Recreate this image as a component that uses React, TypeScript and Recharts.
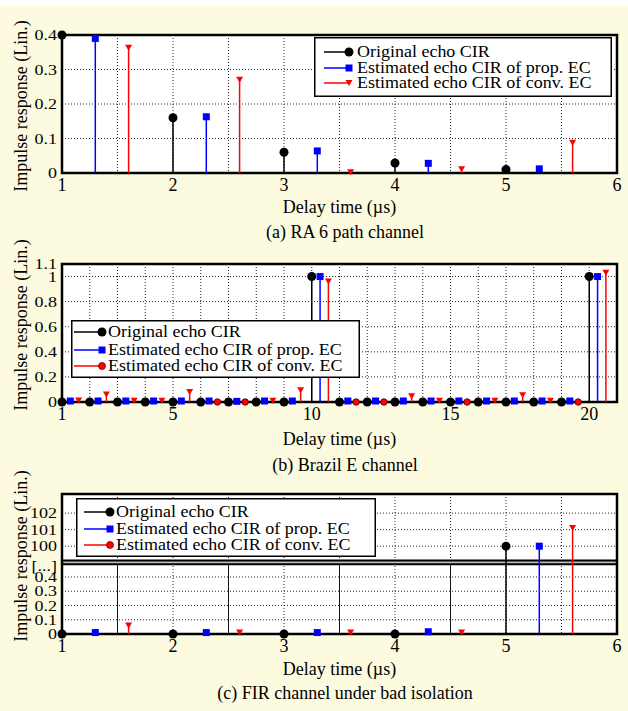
import React from 'react';
import { ComposedChart, Scatter, XAxis, YAxis, CartesianGrid, ReferenceLine, ReferenceArea } from 'recharts';

const FONT = '"Liberation Serif", "Times New Roman", serif';
const BG = '#fcfbe0';
const ORIG_COLOR = '#000000';
const PROP_COLOR = '#0000ff';
const CONV_COLOR = '#ff0000';

const SERIES_NAMES = ['Original echo CIR', 'Estimated echo CIR of prop. EC', 'Estimated echo CIR of conv. EC'];

// (a) RA 6 path channel
const aOrigX = [1, 2, 3, 4, 5];
const aOrigY = [0.4, 0.16, 0.06, 0.029, 0.01];
const aPropX = [1.3, 2.3, 3.3, 4.3, 5.3];
const aPropY = [0.39, 0.163, 0.064, 0.028, 0.012];
const aConvX = [1.6, 2.6, 3.6, 4.6, 5.6];
const aConvY = [0.363, 0.27, 0.002, 0.011, 0.088];
const aXTicks = [1, 2, 3, 4, 5, 6];
const aXGrid = [1.5, 2, 2.5, 3, 3.5, 4, 4.5, 5, 5.5];
const aYTicks = [0, 0.1, 0.2, 0.3, 0.4];
const aYGrid = [0.1, 0.2, 0.3];

// (b) Brazil E channel
const bOrigX = [1, 2, 3, 4, 5, 6, 7, 8, 9, 10, 11, 12, 13, 14, 15, 16, 17, 18, 19, 20];
const bOrigY = [0, 0, 0, 0, 0, 0, 0, 0, 0, 1, 0, 0, 0, 0, 0, 0, 0, 0, 0, 1];
const bPropX = [1.3, 2.3, 3.3, 4.3, 5.3, 6.3, 7.3, 8.3, 9.3, 10.3, 11.3, 12.3, 13.3, 14.3, 15.3, 16.3, 17.3, 18.3, 19.3, 20.3];
const bPropY = [0.008, 0.008, 0.008, 0.008, 0.008, 0.008, 0.005, 0.008, 0.008, 1.0, 0.008, 0.008, 0.008, 0.008, 0.008, 0.008, 0.008, 0.008, 0.008, 1.0];
const bConvX = [1.6, 2.6, 3.6, 4.6, 5.6, 6.6, 7.6, 8.6, 9.6, 10.6, 11.6, 12.6, 13.6, 14.6, 15.6, 16.6, 17.6, 18.6, 19.6, 20.6];
const bConvY = [0.012, 0.06, 0.01, 0.01, 0.08, 0, 0, 0.01, 0.093, 0.96, 0, 0, 0.045, 0.01, 0, 0.01, 0.053, 0.01, 0, 1.03];
const bXTicks = [1, 5, 10, 15, 20];
const bXGrid = [2, 3, 4, 5, 6, 7, 8, 9, 10, 11, 12, 13, 14, 15, 16, 17, 18, 19, 20];
const bYTicks = [0, 0.2, 0.4, 0.6, 0.8, 1, 1.1];
const bYGrid = [0.2, 0.4, 0.6, 0.8, 1];

// (c) FIR channel under bad isolation (broken y axis)
const cOrigX = [1, 2, 3, 4, 5];
const cOrigY = [0, 0, 0, 0, 100];
const cPropX = [1.3, 2.3, 3.3, 4.3, 5.3];
const cPropY = [0.01, 0.01, 0.01, 0.016, 100];
const cConvX = [1.6, 2.6, 3.6, 4.6, 5.6];
const cConvY = [0.06, 0.01, 0.01, 0.01, 101.1];
const cXTicks = [1, 2, 3, 4, 5, 6];
const cXGrid = [1.5, 2, 2.5, 3, 3.5, 4, 4.5, 5, 5.5];
const cLowTicks = [0, 0.1, 0.2, 0.3, 0.4];
const cHighTicks = [100, 101, 102];
const cSolidX = [1.5, 2.5, 3.5, 4.5];

// broken axis: 0..0.5 kept, 99..103 squeezed above it
const BREAK = 0.5;
const HIGH_SCALE = 0.116;
const toBroken = (v: number) => (v <= BREAK ? v : BREAK + (v - 99) * HIGH_SCALE);
const fromBroken = (v: number) => (v - BREAK) / HIGH_SCALE + 99;
const cBreakTick = 0.475;
const cYTicks = [...cLowTicks, cBreakTick, ...cHighTicks.map(toBroken)];
const cYGrid = [0.1, 0.2, 0.3, 0.4, ...cHighTicks.map(toBroken)];

const pts = (xs: number[], ys: number[], map = (v: number) => v) =>
  xs.map((x, i) => ({ x, y: map(ys[i]), raw: ys[i] }));

function Marker(props: any) {
  const { cx, cy, kind, payload } = props;
  if (cx == null || cy == null) return null;
  if (kind === 'orig') return <circle cx={cx} cy={cy} r={4.5} fill={ORIG_COLOR} />;
  if (kind === 'prop') return <rect x={cx - 3.5} y={cy - 3.5} width={7} height={7} fill={PROP_COLOR} />;
  if (payload && payload.raw === 0) {
    return <circle cx={cx} cy={cy} r={3.2} fill={CONV_COLOR} stroke="#700" strokeWidth={1} />;
  }
  return <path d={`M${cx - 3.5},${cy - 3} L${cx + 3.5},${cy - 3} L${cx},${cy + 3} Z`} fill={CONV_COLOR} />;
}

function YTick(props: any) {
  const { x, y, payload, fmt } = props;
  const label = fmt ? fmt(payload.value) : String(payload.value);
  return (
    <g transform={`translate(${x},${y}) scale(1,0.8)`}>
      <text x={0} y={0} dy="0.35em" textAnchor="end" fontFamily={FONT} fontSize={18} fill="#000">
        {label}
      </text>
    </g>
  );
}

function LegendBox({ left, top, width, height, rows, lineX1, lineX2, textX, convRound }: any) {
  const colors = [ORIG_COLOR, PROP_COLOR, CONV_COLOR];
  return (
    <svg style={{ position: 'absolute', left, top }} width={width} height={height}>
      <rect x={0.75} y={0.75} width={width - 1.5} height={height - 1.5} fill="#fff" stroke="#000" strokeWidth={1.5} />
      {SERIES_NAMES.map((name, i) => {
        const y = rows[i];
        const c = colors[i];
        let m;
        if (i === 0) m = <circle cx={lineX2} cy={y} r={4.5} fill={c} />;
        else if (i === 1) m = <rect x={lineX2 - 3.5} y={y - 3.5} width={7} height={7} fill={c} />;
        else if (convRound) m = <circle cx={lineX2} cy={y} r={3.5} fill={c} stroke="#700" strokeWidth={0.8} />;
        else m = <path d={`M${lineX2 - 3.5},${y - 3} L${lineX2 + 3.5},${y - 3} L${lineX2},${y + 3} Z`} fill={c} />;
        return (
          <g key={name}>
            <line x1={lineX1} x2={lineX2} y1={y} y2={y} stroke={c} strokeWidth={1.5} />
            {m}
            <g transform={`translate(${textX},${y}) scale(1,0.88)`}>
              <text x={0} y={0} dy="0.33em" fontFamily={FONT} fontSize={18} fill="#000">
                {name}
              </text>
            </g>
          </g>
        );
      })}
    </svg>
  );
}

function Panel(p: any) {
  const height = p.plotBottom - p.top + 47;
  const series = [
    { kind: 'orig', color: ORIG_COLOR, data: p.orig },
    { kind: 'prop', color: PROP_COLOR, data: p.prop },
    { kind: 'conv', color: CONV_COLOR, data: p.conv },
  ];
  const yLabel = () => (
    <text
      transform={`translate(21, ${p.yLabelCenter - p.top}) rotate(-90)`}
      textAnchor="middle"
      dominantBaseline="central"
      fontFamily={FONT}
      fontSize={18}
      fill="#000"
    >
      Impulse response (Lin.)
    </text>
  );
  return (
    <div style={{ position: 'absolute', left: 0, top: p.top }}>
      <ComposedChart
        width={628}
        height={height}
        margin={{ top: p.plotTop - p.top, right: 11, bottom: 0, left: 0 }}
      >
        <CartesianGrid
          verticalValues={p.xGrid}
          horizontalValues={p.yGrid}
          stroke="#222"
          strokeDasharray="1 2"
          fill="#fff"
        />
        <XAxis
          type="number"
          dataKey="x"
          domain={p.xDomain}
          ticks={p.xTicks}
          interval={0}
          tickLine={false}
          axisLine={false}
          tickSize={5}
          tickMargin={0}
          height={47}
          tick={{ fill: '#000', fontSize: 18, fontFamily: FONT }}
          label={{ value: 'Delay time (µs)', position: 'insideBottom', offset: p.xLabelOffset, fill: '#000', fontSize: 18, fontFamily: FONT }}
        />
        <YAxis
          type="number"
          dataKey="y"
          domain={p.yDomain}
          ticks={p.yTicks}
          interval={0}
          tickLine={false}
          axisLine={false}
          tickSize={5}
          tickMargin={0}
          width={62}
          tick={(tp: any) => <YTick {...tp} fmt={p.yFmt} />}
          label={{ content: yLabel }}
        />
        {p.extras}
        {series.map((s) =>
          s.data
            .filter((d: any) => d.y !== 0)
            .map((d: any, i: number) => (
              <ReferenceLine
                key={`${s.kind}-stem-${i}`}
                segment={[{ x: d.x, y: 0 }, { x: d.x, y: d.y }]}
                stroke={s.color}
                strokeWidth={1.5}
              />
            ))
        )}
        <ReferenceArea
          x1={p.xDomain[0]}
          x2={p.xDomain[1]}
          y1={p.yDomain[0]}
          y2={p.yDomain[1]}
          fill="none"
          fillOpacity={0}
          stroke="#000"
          strokeWidth={2.5}
          ifOverflow="visible"
        />
        {series.map((s, i) => (
          <Scatter
            key={s.kind}
            name={SERIES_NAMES[i]}
            data={s.data}
            fill={s.color}
            isAnimationActive={false}
            shape={(sp: any) => <Marker {...sp} kind={s.kind} />}
          />
        ))}
      </ComposedChart>
      {p.legend}
      <div
        style={{
          position: 'absolute',
          left: 195,
          width: 300,
          top: p.captionY - p.top - 11,
          lineHeight: '22px',
          textAlign: 'center',
          fontFamily: FONT,
          fontSize: 18,
          color: '#000',
        }}
      >
        {p.caption}
      </div>
    </div>
  );
}

export default function App() {
  const cExtras = [
    <ReferenceArea key="brk-area" y1={0.49} y2={0.515} x1={1} x2={6} fill="#bbb" fillOpacity={1} stroke="none" />,
    <ReferenceLine key="brk-lo" y={0.49} stroke="#000" strokeWidth={2} />,
    <ReferenceLine key="brk-hi" y={0.515} stroke="#000" strokeWidth={2} />,
    ...cSolidX.map((x) => (
      <ReferenceLine key={`solid-${x}`} segment={[{ x, y: 0 }, { x, y: 0.49 }]} stroke="#111" strokeWidth={1} />
    )),
  ];
  return (
    <div
      style={{
        position: 'absolute',
        left: 0,
        top: 0,
        width: 628,
        height: 711,
        background: BG,
        overflow: 'hidden',
        fontFamily: FONT,
      }}
    >
      <div style={{ position: 'absolute', left: 0, top: 0, width: 628, height: 6, background: '#fff' }} />
      <Panel
        top={10}
        plotTop={35}
        plotBottom={173}
        xDomain={[1, 6]}
        xTicks={aXTicks}
        xGrid={aXGrid}
        yDomain={[0, 0.4]}
        yTicks={aYTicks}
        yGrid={aYGrid}
        orig={pts(aOrigX, aOrigY)}
        prop={pts(aPropX, aPropY)}
        conv={pts(aConvX, aConvY)}
        xLabelOffset={7}
        captionY={232}
        yLabelCenter={106}
        caption="(a) RA 6 path channel"
        legend={
          <LegendBox left={314} top={27} width={298} height={60} rows={[15, 31, 46]} lineX1={10} lineX2={35} textX={43} />
        }
      />
      <Panel
        top={240}
        plotTop={264}
        plotBottom={402}
        xDomain={[1, 21]}
        xTicks={bXTicks}
        xGrid={bXGrid}
        yDomain={[0, 1.1]}
        yTicks={bYTicks}
        yGrid={bYGrid}
        orig={pts(bOrigX, bOrigY)}
        prop={pts(bPropX, bPropY)}
        conv={pts(bConvX, bConvY)}
        xLabelOffset={4}
        captionY={465}
        yLabelCenter={325}
        caption="(b) Brazil E channel"
        legend={
          <LegendBox left={71} top={80} width={289} height={58} rows={[12, 30, 46]} lineX1={3} lineX2={31} textX={37} convRound />
        }
      />
      <Panel
        top={458}
        plotTop={494}
        plotBottom={634}
        xDomain={[1, 6]}
        xTicks={cXTicks}
        xGrid={cXGrid}
        yDomain={[0, 0.982]}
        yTicks={cYTicks}
        yGrid={cYGrid}
        yFmt={(v: number) =>
          v === cBreakTick ? '[...]' : v > BREAK ? String(Math.round(fromBroken(v))) : String(v)
        }
        orig={pts(cOrigX, cOrigY, toBroken)}
        prop={pts(cPropX, cPropY, toBroken)}
        conv={pts(cConvX, cConvY, toBroken)}
        xLabelOffset={6}
        captionY={693}
        yLabelCenter={556}
        caption="(c) FIR channel under bad isolation"
        extras={cExtras}
        legend={
          <LegendBox left={76} top={40} width={300} height={59} rows={[14, 31, 47]} lineX1={8} lineX2={34} textX={40} convRound />
        }
      />
    </div>
  );
}
